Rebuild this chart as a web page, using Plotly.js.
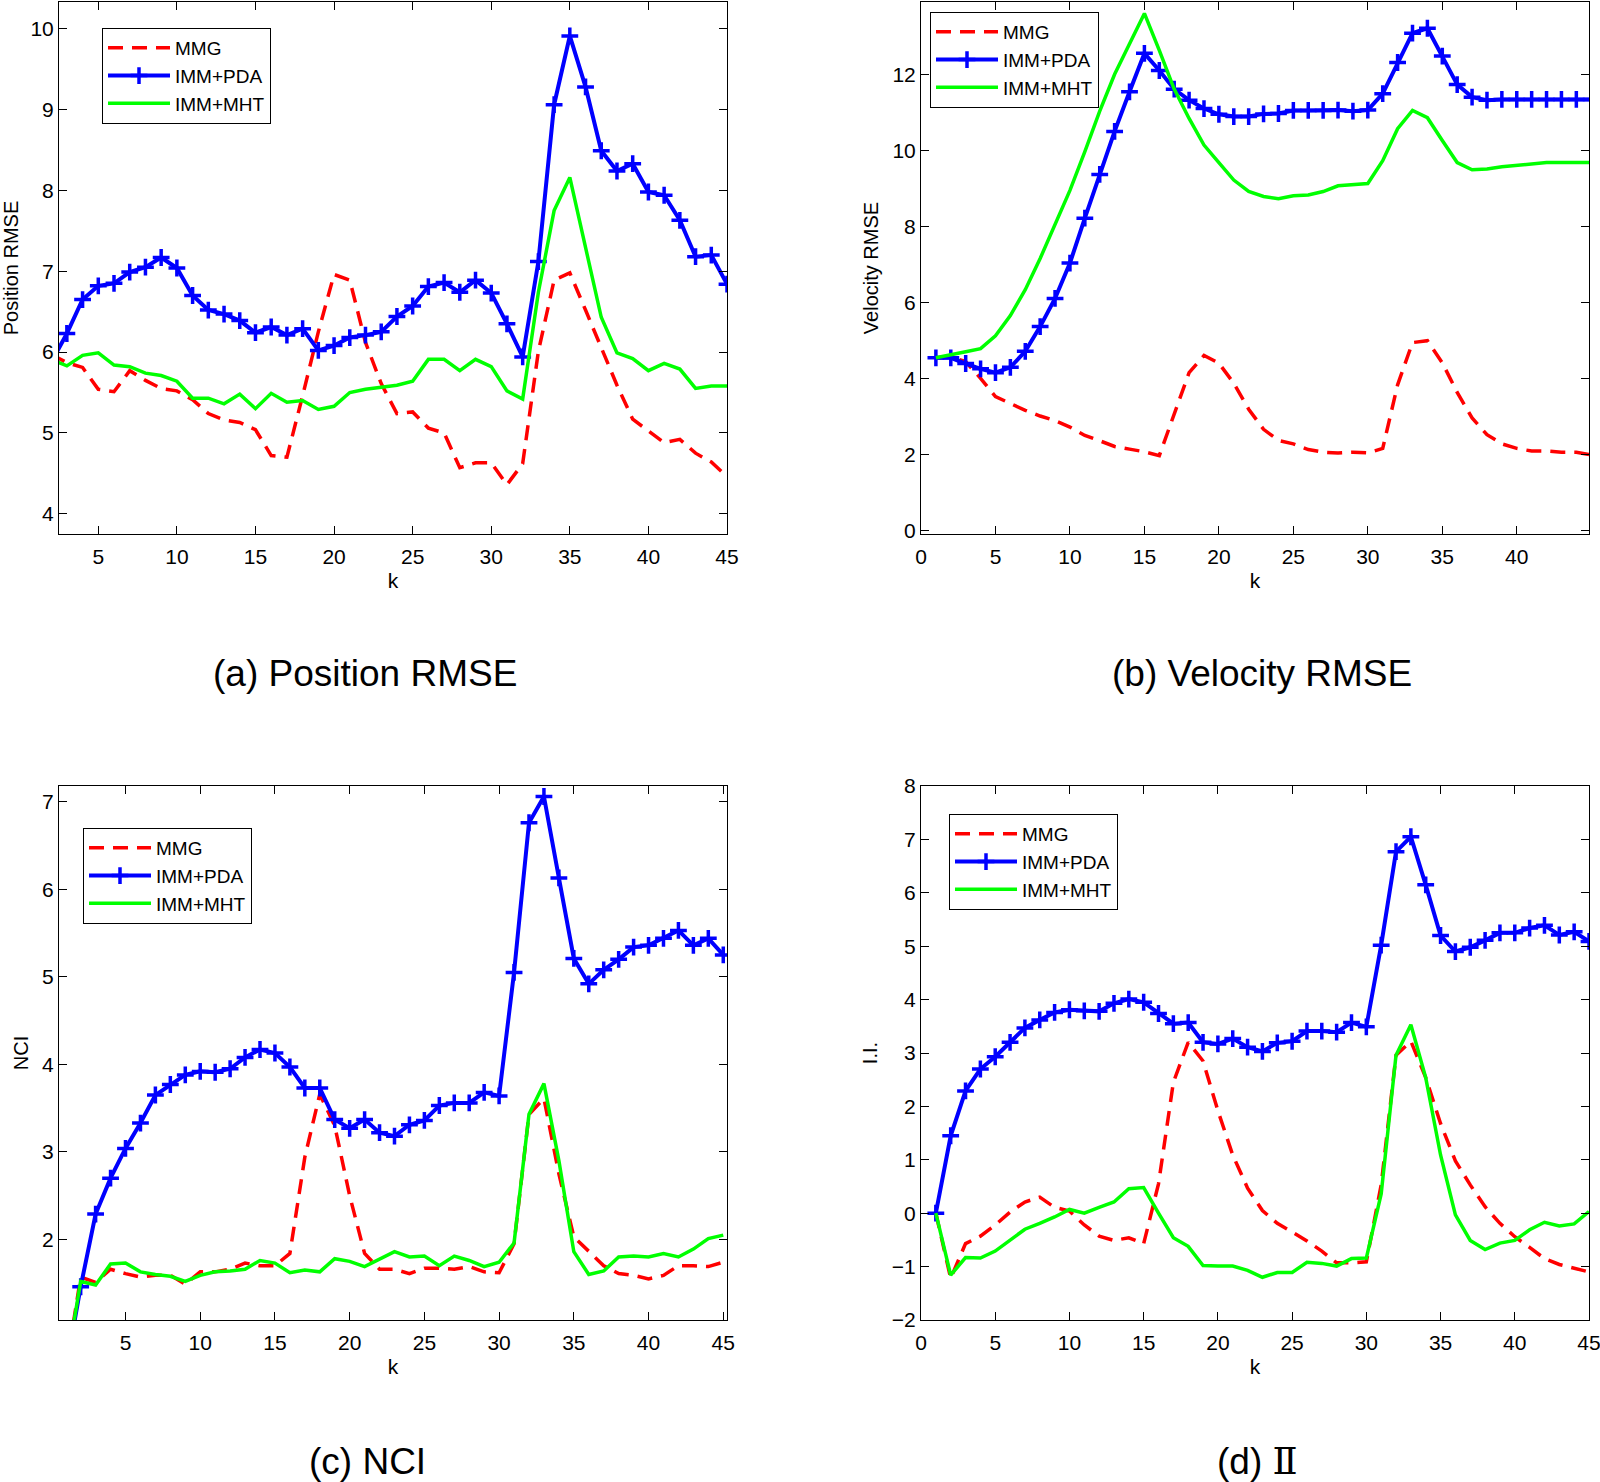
<!DOCTYPE html>
<html>
<head>
<meta charset="utf-8">
<script src="https://cdn.plot.ly/plotly-3.0.1.min.js"></script>
<style>
  html, body { margin: 0; padding: 0; background: #fff; }
  #chart { width: 1600px; height: 1482px; }
</style>
</head>
<body>
<div id="chart"></div>
<script>
// time step k
const k = [1, 2, 3, 4, 5, 6, 7, 8, 9, 10, 11, 12, 13, 14, 15, 16, 17, 18, 19, 20,
  21, 22, 23, 24, 25, 26, 27, 28, 29, 30, 31, 32, 33, 34, 35, 36, 37, 38, 39, 40,
  41, 42, 43, 44, 45];
// panel (a) starts at k = 2
const kPos = k.slice(1);

const seriesNames = ['MMG', 'IMM+PDA', 'IMM+MHT'];

// (a) Position RMSE, k = 2..45
const posMMG = [5.97, 5.87, 5.81, 5.54, 5.51, 5.77, 5.65, 5.55, 5.52, 5.41,
  5.24, 5.16, 5.13, 5.04, 4.72, 4.70, 5.46, 6.25, 6.96, 6.89,
  6.12, 5.61, 5.24, 5.26, 5.06, 5.00, 4.57, 4.63, 4.63, 4.36,
  4.62, 6.01, 6.89, 6.98, 6.52, 6.05, 5.59, 5.17, 5.02, 4.88,
  4.92, 4.75, 4.64, 4.46];
const posPDA = [5.87, 6.23, 6.65, 6.82, 6.85, 6.99, 7.05, 7.17, 7.04, 6.70,
  6.52, 6.47, 6.39, 6.24, 6.31, 6.21, 6.29, 6.02, 6.08, 6.18,
  6.21, 6.25, 6.44, 6.57, 6.81, 6.86, 6.74, 6.89, 6.73, 6.35,
  5.94, 7.12, 9.06, 9.91, 9.28, 8.49, 8.24, 8.33, 7.98, 7.94,
  7.63, 7.18, 7.20, 6.84];
const posMHT = [5.91, 5.83, 5.96, 5.99, 5.84, 5.82, 5.74, 5.71, 5.64, 5.43,
  5.43, 5.36, 5.48, 5.30, 5.49, 5.38, 5.40, 5.29, 5.33, 5.50,
  5.54, 5.56, 5.59, 5.64, 5.91, 5.91, 5.77, 5.91, 5.82, 5.52,
  5.42, 6.74, 7.75, 8.16, 7.31, 6.43, 5.99, 5.92, 5.77, 5.86,
  5.79, 5.55, 5.58, 5.58];

// (b) Velocity RMSE, k = 1..45
const velMMG = [4.55, 4.57, 4.45, 4.01, 3.53, 3.34, 3.17, 3.02, 2.90, 2.73,
  2.51, 2.37, 2.22, 2.15, 2.08, 1.98, 3.09, 4.16, 4.61, 4.41,
  3.88, 3.20, 2.67, 2.38, 2.29, 2.14, 2.07, 2.05, 2.07, 2.05,
  2.17, 3.84, 4.95, 5.00, 4.42, 3.64, 2.97, 2.53, 2.29, 2.17,
  2.10, 2.10, 2.07, 2.07, 2.00];
const velPDA = [4.55, 4.55, 4.40, 4.26, 4.16, 4.30, 4.72, 5.37, 6.11, 7.04,
  8.22, 9.37, 10.50, 11.54, 12.55, 12.10, 11.61, 11.32, 11.10, 10.95,
  10.89, 10.89, 10.96, 10.97, 11.05, 11.05, 11.05, 11.06, 11.03, 11.06,
  11.49, 12.31, 13.08, 13.21, 12.48, 11.73, 11.40, 11.32, 11.34, 11.34,
  11.34, 11.34, 11.34, 11.34, 11.34];
const velMHT = [4.55, 4.62, 4.71, 4.79, 5.13, 5.66, 6.34, 7.16, 8.03, 8.95,
  9.97, 11.03, 12.00, 12.79, 13.60, 12.63, 11.61, 10.84, 10.14, 9.68,
  9.22, 8.92, 8.79, 8.73, 8.81, 8.83, 8.92, 9.07, 9.10, 9.13,
  9.73, 10.57, 11.05, 10.86, 10.26, 9.68, 9.49, 9.51, 9.57, 9.61,
  9.65, 9.68, 9.68, 9.68, 9.68];

// (c) NCI, k = 1..45
const nciMMG = [0.50, 1.57, 1.51, 1.66, 1.61, 1.57, 1.59, 1.59, 1.49, 1.63,
  1.63, 1.66, 1.73, 1.70, 1.70, 1.84, 2.94, 3.66, 3.30, 2.50,
  1.84, 1.66, 1.66, 1.61, 1.67, 1.67, 1.66, 1.69, 1.63, 1.62,
  1.95, 3.43, 3.61, 2.75, 2.03, 1.86, 1.70, 1.61, 1.59, 1.55,
  1.59, 1.70, 1.70, 1.69, 1.74];
const nciPDA = [0.50, 1.46, 2.29, 2.70, 3.04, 3.33, 3.65, 3.77, 3.88, 3.92,
  3.91, 3.95, 4.08, 4.17, 4.13, 3.97, 3.73, 3.73, 3.37, 3.27,
  3.37, 3.22, 3.18, 3.31, 3.36, 3.53, 3.56, 3.56, 3.68, 3.64,
  5.05, 6.76, 7.06, 6.13, 5.21, 4.92, 5.08, 5.20, 5.34, 5.36,
  5.44, 5.53, 5.36, 5.44, 5.25];
const nciMHT = [0.50, 1.52, 1.48, 1.72, 1.73, 1.63, 1.60, 1.58, 1.52, 1.59,
  1.63, 1.64, 1.66, 1.76, 1.73, 1.62, 1.65, 1.63, 1.78, 1.75,
  1.69, 1.78, 1.86, 1.80, 1.81, 1.70, 1.81, 1.76, 1.69, 1.74,
  1.96, 3.43, 3.78, 2.90, 1.86, 1.60, 1.64, 1.80, 1.81, 1.80,
  1.84, 1.80, 1.89, 2.01, 2.05];

// (d) I.I., k = 1..45
const iiMMG = [0.00, -1.22, -0.57, -0.43, -0.22, 0.02, 0.21, 0.30, 0.11, 0.04,
  -0.22, -0.43, -0.51, -0.46, -0.57, 0.55, 2.45, 3.20, 2.85, 1.92,
  1.09, 0.47, 0.05, -0.19, -0.35, -0.52, -0.71, -0.93, -0.93, -0.91,
  0.53, 2.96, 3.22, 2.54, 1.68, 0.98, 0.53, 0.12, -0.19, -0.44,
  -0.64, -0.85, -0.96, -1.03, -1.10];
const iiPDA = [0.00, 1.45, 2.29, 2.70, 2.93, 3.20, 3.47, 3.62, 3.76, 3.81,
  3.79, 3.78, 3.93, 4.01, 3.95, 3.74, 3.55, 3.57, 3.20, 3.17,
  3.27, 3.11, 3.03, 3.19, 3.22, 3.41, 3.41, 3.39, 3.57, 3.49,
  5.02, 6.77, 7.05, 6.15, 5.20, 4.90, 4.98, 5.11, 5.25, 5.25,
  5.34, 5.39, 5.21, 5.27, 5.09];
const iiMHT = [0.00, -1.16, -0.83, -0.84, -0.71, -0.50, -0.30, -0.19, -0.07, 0.07,
  0.00, 0.11, 0.21, 0.46, 0.48, 0.00, -0.46, -0.62, -0.98, -0.99,
  -0.99, -1.07, -1.20, -1.11, -1.11, -0.92, -0.94, -0.99, -0.85, -0.84,
  0.36, 2.96, 3.53, 2.54, 1.09, -0.03, -0.51, -0.68, -0.56, -0.51,
  -0.31, -0.17, -0.24, -0.20, 0.03];

const FONT = 'Liberation Sans, Arial, Helvetica, sans-serif';

// one red-dashed / blue-plus / green trio per panel
function trio(x, mmg, pda, mht, ax, legend) {
  const xa = 'x' + ax, ya = 'y' + ax;
  return [
    {
      type: 'scatter', mode: 'lines', x, y: mmg, xaxis: xa, yaxis: ya, legend,
      name: seriesNames[0],
      line: { color: '#ff0000', width: 3.5, dash: '15px,9px' }
    },
    {
      type: 'scatter', mode: 'lines+markers', x, y: pda, xaxis: xa, yaxis: ya, legend,
      name: seriesNames[1],
      line: { color: '#0000ff', width: 4 },
      marker: { symbol: 'cross-thin', size: 12, color: '#0000ff', line: { color: '#0000ff', width: 3.5 } }
    },
    {
      type: 'scatter', mode: 'lines', x, y: mht, xaxis: xa, yaxis: ya, legend,
      name: seriesNames[2],
      line: { color: '#00ff00', width: 3.5 }
    }
  ];
}

const traces = [
  ...trio(kPos, posMMG, posPDA, posMHT, '', 'legend'),
  ...trio(k, velMMG, velPDA, velMHT, '2', 'legend2'),
  ...trio(k, nciMMG, nciPDA, nciMHT, '3', 'legend3'),
  ...trio(k, iiMMG, iiPDA, iiMHT, '4', 'legend4')
];

function axis(extra) {
  return Object.assign({
    showline: true, linecolor: '#000', linewidth: 1, mirror: 'ticks',
    ticks: 'inside', ticklen: 8, tickcolor: '#000', tickwidth: 1,
    showgrid: false, zeroline: false, ticklabeloverflow: 'allow',
    tickfont: { family: FONT, size: 21, color: '#000' }
  }, extra);
}

function legendBox(x, y) {
  return {
    x, y, xanchor: 'left', yanchor: 'top',
    bgcolor: '#fff', bordercolor: '#000', borderwidth: 1,
    font: { family: FONT, size: 19, color: '#000' },
    traceorder: 'normal', itemwidth: 62, tracegroupgap: 0
  };
}

const W = 1600, H = 1482;
const colL = [59 / W, 727 / W], colR = [921 / W, 1589 / W];
const rowT = [1 - 534 / H, 1 - 2 / H], rowB = [1 - 1320 / H, 1 - 786 / H];
const kTitle = { text: 'k', font: { family: FONT, size: 21, color: '#000' }, standoff: 6 };
const yTitle = t => ({ text: t, font: { family: FONT, size: 20, color: '#000' }, standoff: 8 });
const xTicks = { ticklabelstandoff: 4 };

const layout = {
  width: W, height: H,
  paper_bgcolor: '#fff', plot_bgcolor: '#fff',
  margin: { l: 0, r: 0, t: 0, b: 0 },
  font: { family: FONT, color: '#000' },
  showlegend: true,
  xaxis: axis({ ...xTicks, domain: colL, anchor: 'y', range: [2.5, 45], tickvals: [5, 10, 15, 20, 25, 30, 35, 40, 45], title: kTitle }),
  yaxis: axis({ domain: rowT, anchor: 'x', range: [3.75, 10.33], tickvals: [4, 5, 6, 7, 8, 9, 10], title: yTitle('Position RMSE') }),
  xaxis2: axis({ ...xTicks, domain: colR, anchor: 'y2', range: [0, 44.85], tickvals: [0, 5, 10, 15, 20, 25, 30, 35, 40], title: kTitle }),
  yaxis2: axis({ domain: rowT, anchor: 'x2', range: [-0.08, 13.9], tickvals: [0, 2, 4, 6, 8, 10, 12], title: yTitle('Velocity RMSE') }),
  xaxis3: axis({ ...xTicks, domain: colL, anchor: 'y3', range: [0.55, 45.25], tickvals: [5, 10, 15, 20, 25, 30, 35, 40, 45], title: kTitle }),
  yaxis3: axis({ domain: rowB, anchor: 'x3', range: [1.08, 7.18], tickvals: [2, 3, 4, 5, 6, 7], title: yTitle('NCI') }),
  xaxis4: axis({ ...xTicks, domain: colR, anchor: 'y4', range: [0, 45], tickvals: [0, 5, 10, 15, 20, 25, 30, 35, 40, 45], title: kTitle }),
  yaxis4: axis({ domain: rowB, anchor: 'x4', range: [-2, 8], tickvals: [-2, -1, 0, 1, 2, 3, 4, 5, 6, 7, 8], title: yTitle('I.I.') }),
  legend: legendBox(102 / W, 1 - 28 / H),
  legend2: legendBox(930 / W, 1 - 12 / H),
  legend3: legendBox(83 / W, 1 - 828 / H),
  legend4: legendBox(949 / W, 1 - 814 / H),
  annotations: [
    { text: '(a) Position RMSE', x: 365 / W, y: 1 - 673 / H },
    { text: '(b) Velocity RMSE', x: 1262 / W, y: 1 - 673 / H },
    { text: '(c) NCI', x: 367 / W, y: 1 - 1461 / H },
    { text: '(d) <span style="font-family:\'Liberation Serif\', \'DejaVu Serif\', serif">Ⅱ</span>', x: 1257 / W, y: 1 - 1461 / H }
  ].map(a => Object.assign({
    xref: 'paper', yref: 'paper', xanchor: 'center', yanchor: 'middle',
    showarrow: false, font: { family: FONT, size: 37, color: '#000' }
  }, a))
};

Plotly.newPlot('chart', traces, layout, { displayModeBar: false, staticPlot: true });
</script>
</body>
</html>
